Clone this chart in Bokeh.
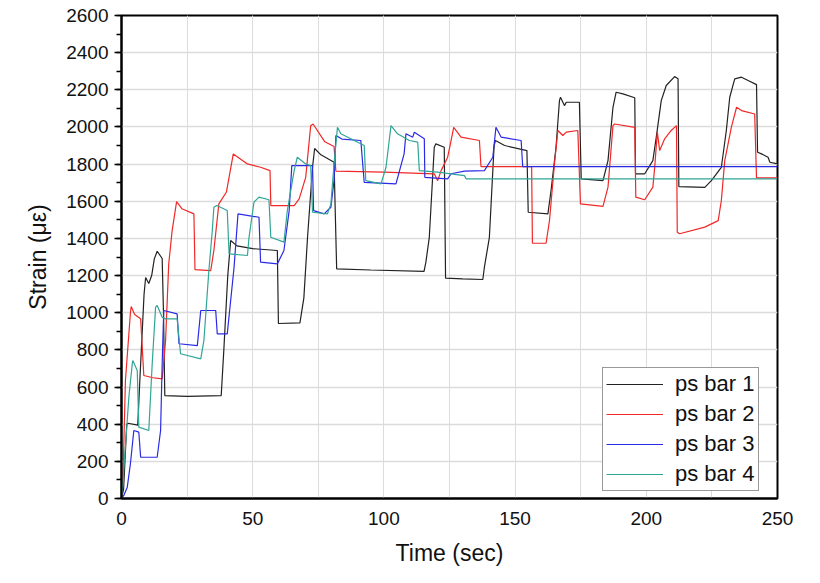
from bokeh.plotting import figure
from bokeh.models import SingleIntervalTicker, Legend, LegendItem, Range1d
from bokeh.embed import file_html
from bokeh.resources import INLINE

# ---- data ----
t1 = [0, 0.8, 2, 2.5, 6.2, 7.0, 8.6, 9.2, 10.4, 11.5, 12.5, 13.6, 15.5, 16.0, 16.5, 25, 38, 39, 40.5, 41.6, 44, 50, 59.4,
      59.8, 68, 69.5, 70.9, 72.8, 73.6, 76, 81, 82, 95, 115.3, 116, 117.3, 119.2, 119.8, 123, 123.5, 130, 137.7, 138.3,
      140.2, 142, 142.5, 146, 154.5, 155, 162.5, 163.7, 165.6, 166.9, 167.3, 168.8, 169.5, 174.5, 175.2, 183.5, 185.4,
      187.3, 188.5, 191.1, 195.6, 195.9, 199.4, 202.5, 203.8, 205.7, 207.6, 210.8, 212.1, 212.4, 222.3, 224.8, 228.6,
      230.5, 231.8, 233.7, 236.3, 238.8, 242, 242.4, 243.9, 246.4, 247.1, 250]
s1 = [0, 50, 400, 405, 395, 640, 1100, 1190, 1157, 1200, 1290, 1331, 1292, 1000, 554, 550, 554, 800, 1200, 1389, 1360, 1345, 1335,
      942, 945, 1080, 1406, 1783, 1884, 1850, 1810, 1236, 1230, 1223, 1272, 1406, 1891, 1909, 1891, 1186, 1182, 1179, 1245,
      1406, 1900, 1927, 1900, 1873, 1541, 1532, 1658, 1891, 2142, 2160, 2115, 2133, 2133, 1721, 1711, 1819,
      2106, 2187, 2178, 2157, 1748, 1748, 1819, 1945, 2142, 2223, 2271, 2259, 1679, 1675, 1711, 1783,
      1981, 2160, 2259, 2268, 2250, 2228, 1864, 1855, 1837, 1810, 1801]

t2 = [0, 0.5, 1.5, 3.4, 3.7, 5, 7.3, 8.5, 12, 15.5, 16.8, 18, 19.3, 21, 23, 27.6, 28, 34, 35.2, 37.1, 40, 42.6, 48, 53,
      56.6, 56.9, 65.8, 67.7, 70.2, 72.1, 73, 77.5, 81, 81.7, 100, 119.2, 120.5, 121.8, 124.3, 125.6, 126.6, 129.4, 136.4,
      137, 156.3, 156.6, 161.8, 163.1, 165, 166.3, 168.2, 169.5, 173.9, 174.9, 183.5, 185.4, 187.3, 187.9, 195.6, 196,
      199.4, 202.5, 203.2, 204.2, 205.1, 207, 209.5, 211.5, 211.8, 212.7, 222.3, 227.4, 228.6, 229.9, 232.4, 234.4,
      236.3, 241.3, 242, 250]
s2 = [0, 79, 635, 1000, 1033, 990, 967, 662, 650, 644, 850, 1263, 1442, 1598, 1560, 1532, 1232, 1227, 1335, 1586, 1650, 1855, 1801, 1783,
      1765, 1577, 1577, 1613, 1729, 2007, 2016, 1920, 1895, 1762, 1757, 1748, 1711, 1765, 1837, 1927, 1998, 1945, 1927,
      1787, 1787, 1374, 1374, 1496, 1801, 1981, 1954, 1972, 1981, 1586, 1572, 1676, 2007, 2016, 1998, 1622,
      1608, 1676, 1783, 1972, 1873, 1936, 1981, 2007, 1433, 1425, 1461, 1496, 1604, 1819, 1998, 2106,
      2088, 2070, 1726, 1726]

t3 = [0, 1, 2.2, 3.4, 4.7, 6.6, 7.3, 13.6, 14.9, 15.5, 16.1, 21.2, 21.9, 28.9, 30.2, 35.9, 36.5, 40.3, 42.9, 44.4, 52.4,
      53, 59.4, 61.9, 63.9, 64.9, 72.8, 73.2, 77.2, 79.8, 81, 81.7, 84, 91.2, 92.5, 104.6, 107.7, 108.4, 111, 111.6, 115.4,
      115.6, 124.3, 125.6, 130.7, 138.3, 141.5, 142.7, 144.7, 152.3, 152.9, 250]
s3 = [0, 20, 61, 187, 366, 357, 222, 222, 366, 725, 1012, 994, 833, 823, 1012, 1012, 886, 886, 1245, 1532, 1514,
      1272, 1263, 1335, 1550, 1792, 1792, 1550, 1532, 1568, 1711, 1954, 1935, 1927, 1702, 1694, 1855, 1963, 1945, 1972, 1936,
      1729, 1721, 1748, 1762, 1765, 1837, 1998, 1945, 1927, 1787, 1787]

t4 = [0, 0.3, 2.8, 4.1, 4.3, 6, 6.6, 10.4, 11.7, 13, 13.6, 15.5, 16.8, 21.2, 22.5, 30.2, 31.4, 33.3, 34.6, 35.2, 36.3,
      40.3, 41, 48, 48.6, 50.5, 52.4, 56.2, 56.9, 61.9, 63.2, 65.8, 67, 70.2, 72.1, 72.8, 78.5, 79.8, 81, 82.3, 83.6,
      92.5, 93.1, 98.9, 100.8, 102.7, 105.2, 109.7, 112.9, 113.5, 120.5, 130.7, 131.3, 250]
s4 = [0, 43, 545, 725, 743, 689, 384, 366, 725, 1030, 1039, 976, 967, 967, 779, 752, 850, 1227, 1442, 1568, 1577,
      1550, 1317, 1308, 1406, 1596, 1622, 1608, 1406, 1380, 1550, 1765, 1837, 1801, 1792, 1541, 1532, 1586, 1801, 1998, 1963,
      1900, 1711, 1694, 1783, 2007, 1963, 1927, 1918, 1765, 1757, 1738, 1721, 1721]

names = ["ps bar 1", "ps bar 2", "ps bar 3", "ps bar 4"]
colors = ["#222222", "#f02828", "#2a2ae6", "#2fa595"]

FONT = "Liberation Sans"

p = figure(frame_width=656, frame_height=483, output_backend="svg", toolbar_location=None,
           x_range=Range1d(0, 250), y_range=Range1d(0, 2600),
           min_border_left=121, min_border_top=15, min_border_right=30, min_border_bottom=70,
           background_fill_color="white", border_fill_color="white")

series = [(t1, s1), (t2, s2), (t3, s3), (t4, s4)]
renderers = []
for (t, s), c in zip(series, colors):
    r = p.line(t, s, line_color=c, line_width=1.2)
    renderers.append(r)

# axes
p.xaxis.ticker = SingleIntervalTicker(interval=50, num_minor_ticks=2)
p.yaxis.ticker = SingleIntervalTicker(interval=200, num_minor_ticks=2)
for ax in (p.xaxis, p.yaxis):
    ax.axis_line_color = "black"
    ax.axis_line_width = 2
    ax.major_tick_line_color = "black"
    ax.minor_tick_line_color = "black"
    ax.major_tick_line_width = 1.5
    ax.minor_tick_line_width = 1.5
    ax.major_label_text_font = FONT
    ax.major_label_text_font_size = "19px"
    ax.major_label_text_color = "#111111"
    ax.axis_label_text_font = FONT
    ax.axis_label_text_font_size = "23px"
    ax.axis_label_text_font_style = "normal"
    ax.axis_label_text_color = "#111111"

p.yaxis.major_tick_in = 0
p.yaxis.major_tick_out = 7
p.yaxis.minor_tick_in = 0
p.yaxis.minor_tick_out = 5
p.yaxis.major_label_standoff = 6
p.yaxis.axis_label = "Strain (με)"
p.yaxis.axis_label_standoff = 12

p.xaxis.major_tick_in = 0
p.xaxis.major_tick_out = 0
p.xaxis.minor_tick_in = 0
p.xaxis.minor_tick_out = 0
p.xaxis.major_label_standoff = 13
p.xaxis.axis_label = "Time (sec)"
p.xaxis.axis_label_standoff = 12

# grid
p.xgrid.grid_line_color = "#dcdcdc"
p.xgrid.minor_grid_line_color = "#dcdcdc"
p.xgrid.grid_line_width = 1
p.ygrid.grid_line_color = "#dcdcdc"
p.ygrid.grid_line_width = 1.5

p.outline_line_color = "black"
p.outline_line_width = 2
p.outline_line_alpha = 1

legend = Legend(items=[LegendItem(label=n, renderers=[r]) for n, r in zip(names, renderers)],
                location=(481, 7))
legend.label_text_font = FONT
legend.label_text_font_size = "22px"
legend.label_text_color = "#111111"
legend.glyph_width = 57
legend.glyph_height = 22
legend.label_height = 22
legend.label_standoff = 12
legend.spacing = 4
legend.padding = 3
legend.margin = 0
legend.border_line_color = "#333333"
legend.border_line_width = 1.5
legend.background_fill_color = "white"
legend.background_fill_alpha = 1
p.add_layout(legend, "center")

open("out.html", "w").write(file_html(p, INLINE))
